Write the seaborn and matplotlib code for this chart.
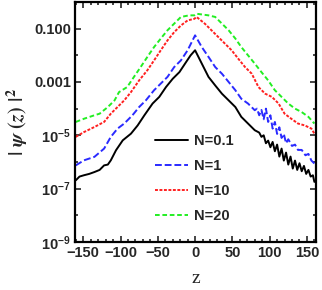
import numpy as np
import pandas as pd
import matplotlib
matplotlib.use("Agg")
import matplotlib.pyplot as plt
import seaborn as sns
from matplotlib.ticker import FixedLocator, FixedFormatter, MultipleLocator

# values, log10(|psi(z)|^2)
labels = ["N=0.1", "N=1", "N=10", "N=20"]

z_n01 = [-160, -155, -149, -142, -135, -128, -122, -117, -113, -106, -97, -86, -77, -68,
         -57, -48, -39, -30, -21, -12, -6, 0, 9, 18, 27, 36, 45, 54, 62, 71, 80, 86, 89,
         92, 95, 98, 101, 104, 107, 110, 113, 116, 119, 122, 125, 128, 131, 134, 137, 140,
         143, 146, 149, 152, 155, 158, 160]
logp_n01 = [-6.69, -6.55, -6.50, -6.45, -6.38, -6.30, -6.13, -6.10, -5.94, -5.56, -5.19,
            -4.94, -4.63, -4.25, -3.81, -3.56, -3.19, -2.88, -2.63, -2.25, -2.00, -1.81,
            -2.31, -2.81, -3.13, -3.44, -3.69, -3.94, -4.31, -4.56, -4.81, -4.90, -5.06,
            -5.00, -5.30, -5.20, -5.45, -5.25, -5.60, -5.35, -5.80, -5.50, -5.95, -5.65,
            -6.10, -5.80, -6.25, -5.95, -6.30, -6.05, -6.35, -6.15, -6.45, -6.30, -6.55,
            -6.50, -6.75]

z_n1 = [-160, -149, -135, -122, -113, -104, -95, -84, -75, -66, -55, -46, -37, -28, -19,
        -10, 0, 9, 18, 27, 36, 45, 54, 62, 71, 80, 83, 86, 89, 92, 95, 98, 101, 104, 107,
        110, 113, 116, 119, 122, 125, 130, 134, 138, 143, 148, 152, 156, 160]
logp_n1 = [-6.13, -5.94, -5.81, -5.50, -5.06, -4.75, -4.56, -4.25, -3.94, -3.69, -3.31,
           -3.06, -2.81, -2.44, -2.19, -1.81, -1.25, -1.69, -2.06, -2.44, -2.69, -3.00,
           -3.31, -3.63, -3.81, -4.06, -4.00, -4.25, -4.05, -4.40, -4.00, -4.50, -4.25,
           -4.75, -4.50, -4.95, -4.70, -5.10, -4.95, -5.30, -5.15, -5.40, -5.35, -5.55,
           -5.55, -5.75, -5.70, -5.95, -6.06]

z_n10 = [-160, -149, -135, -122, -113, -104, -95, -86, -75, -64, -55, -46, -37, -28, -19,
         -10, -1, 2, 13, 22, 31, 40, 49, 58, 67, 76, 85, 94, 103, 112, 120, 129, 138, 147,
         156, 160]
logp_n10 = [-5.06, -4.88, -4.69, -4.50, -4.19, -3.94, -3.69, -3.38, -2.94, -2.56, -2.19,
            -1.81, -1.44, -1.13, -0.88, -0.69, -0.63, -0.56, -0.81, -1.06, -1.31, -1.56,
            -1.81, -2.13, -2.44, -2.69, -3.19, -3.44, -3.56, -3.81, -4.19, -4.38, -4.56,
            -4.63, -4.75, -4.94]

z_n20 = [-160, -149, -135, -128, -117, -108, -102, -91, -82, -73, -64, -55, -46, -37, -28,
         -19, -8, -1, 2, 18, 27, 36, 45, 54, 62, 71, 80, 89, 98, 107, 116, 125, 134, 143,
         152, 160]
logp_n20 = [-4.50, -4.38, -4.25, -4.19, -3.94, -3.69, -3.38, -3.19, -2.81, -2.44, -2.06,
            -1.69, -1.37, -1.06, -0.81, -0.56, -0.50, -0.50, -0.44, -0.50, -0.56, -0.81,
            -1.06, -1.37, -1.69, -2.00, -2.31, -2.63, -2.94, -3.31, -3.56, -3.81, -4.00,
            -4.13, -4.31, -4.56]

xticks = [-150, -100, -50, 0, 50, 100, 150]
yticks = [1e-9, 1e-7, 1e-5, 1e-3, 1e-1]
ytick_labels = [r"$\mathbf{10^{-9}}$", r"$\mathbf{10^{-7}}$", r"$\mathbf{10^{-5}}$", "0.001", "0.100"]

sns.set_style("ticks")
plt.rcParams["font.family"] = ["Liberation Sans", "DejaVu Sans"]
plt.rcParams["font.weight"] = "bold"
plt.rcParams["mathtext.fontset"] = "custom"
plt.rcParams["mathtext.rm"] = "Liberation Sans"
plt.rcParams["mathtext.bf"] = "Liberation Sans:bold"

fig = plt.figure(figsize=(3.22, 2.90), dpi=100)
ax = fig.add_axes([0.233, 0.166, 0.748, 0.827])

series = [
    (z_n01, logp_n01, "black", "-"),
    (z_n1, logp_n1, "#2a2aff", (0, (3.5, 1.5))),
    (z_n10, logp_n10, "#ff2020", (0, (1.5, 0.8))),
    (z_n20, logp_n20, "#22ee22", (0, (2.4, 1.4))),
]
for (z, lp, col, ls), lab in zip(series, labels):
    sns.lineplot(x=z, y=10 ** np.array(lp), color=col, linestyle=ls, lw=1.4,
                 label=lab, estimator=None, sort=False, ax=ax)

ax.set_yscale("log")
ax.set_xlim(-161, 162)
ax.set_ylim(1e-9, 1.0)

ax.xaxis.set_major_locator(FixedLocator(xticks))
ax.xaxis.set_minor_locator(MultipleLocator(10))
ax.yaxis.set_major_locator(FixedLocator(yticks))
ax.yaxis.set_major_formatter(FixedFormatter(ytick_labels))
ax.yaxis.set_minor_locator(FixedLocator([1e-8, 1e-6, 1e-4, 1e-2]))
ax.yaxis.set_minor_formatter(FixedFormatter([]))

ax.tick_params(which="both", direction="in", top=True, right=True, width=1.2,
               labelsize=10.5, pad=3)
ax.tick_params(which="major", length=4)
ax.tick_params(which="minor", length=2.5)
for lbl in ax.get_xticklabels() + ax.get_yticklabels():
    lbl.set_fontweight("bold")
for sp in ax.spines.values():
    sp.set_linewidth(1.6)
    sp.set_color("black")

ax.set_xlabel("z", family="Liberation Serif", fontsize=14, fontweight="normal", labelpad=7)
ax.set_ylabel(r"$|\ \psi\ (z)\ |^2$", fontsize=14.5, math_fontfamily="stix", labelpad=3)

leg = ax.legend(loc="upper left", bbox_to_anchor=(0.33, 0.45), frameon=False,
                handlelength=2.3, handletextpad=0.4, labelspacing=0.75,
                prop={"family": "Liberation Sans", "weight": "bold", "size": 10.5},
                borderpad=0, borderaxespad=0)

fig.savefig("out.png", dpi=100)
